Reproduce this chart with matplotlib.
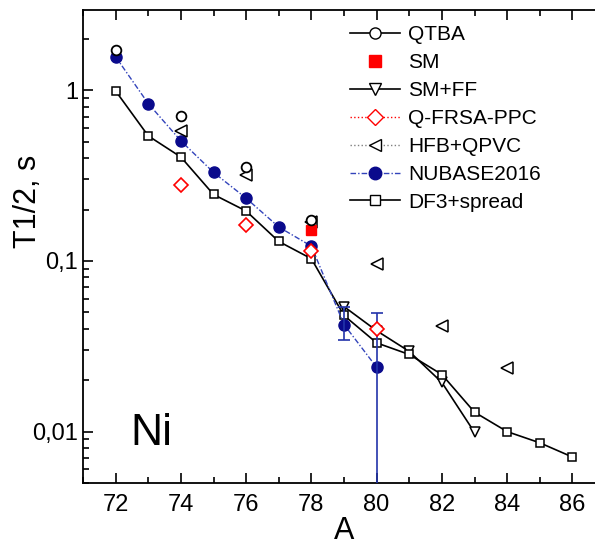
import matplotlib.pyplot as plt
from matplotlib.lines import Line2D
from matplotlib.ticker import FixedLocator, FuncFormatter, LogLocator, NullFormatter

plt.rcParams['font.family'] = ['Liberation Sans', 'DejaVu Sans']

# data
qtba_a = [72, 74, 76, 78]
qtba_t = [1.72, 0.71, 0.355, 0.173]

sm_a = [78]
sm_t = [0.151]

smff_a = [79, 80, 81, 82, 83]
smff_t = [0.054, 0.039, 0.0295, 0.0194, 0.0099]

qfrsa_a = [74, 76, 78, 80]
qfrsa_t = [0.28, 0.162, 0.115, 0.0397]

hfb_a = [74, 76, 78, 80, 82, 84]
hfb_t = [0.577, 0.32, 0.168, 0.0962, 0.0415, 0.0236]

nub_a = [72, 73, 74, 75, 76, 77, 78, 79, 80]
nub_t = [1.57, 0.835, 0.505, 0.33, 0.233, 0.158, 0.122, 0.0424, 0.0238]
nub_err_a = [79, 80]
nub_err_t = [0.0424, 0.0238]
nub_err_lo = [0.0082, 0.02379]
nub_err_hi = [0.0116, 0.0259]

df3_a = [72, 73, 74, 75, 76, 77, 78, 79, 80, 81, 82, 83, 84, 85, 86]
df3_t = [0.99, 0.54, 0.406, 0.245, 0.196, 0.13, 0.103, 0.0479, 0.0331,
         0.0283, 0.0216, 0.013, 0.01, 0.0086, 0.0071]

blue = '#0a0a8c'

fig = plt.figure(figsize=(5.95, 5.45), dpi=100)
ax = fig.add_axes([83 / 595, 1 - 483 / 545, 522 / 595, 473 / 545])

# SM+FF line + markers
ax.plot(smff_a, smff_t, color='black', lw=1.2, marker='v', ms=7,
        mfc='white', mec='black', mew=1.1, zorder=3)
# DF3+spread
ax.plot(df3_a, df3_t, color='black', lw=1.2, marker='s', ms=6,
        mfc='white', mec='black', mew=1.1, zorder=4)
# NUBASE
ax.plot(nub_a, nub_t, color='#3344bb', lw=1.0, ls=(0, (4, 1.5, 1, 1.5)),
        marker='o', ms=8, mfc=blue, mec=blue, zorder=5)
ax.errorbar(nub_err_a, nub_err_t, yerr=[nub_err_lo, nub_err_hi], fmt='none',
            ecolor='#2233aa', elinewidth=1.2, capsize=4, capthick=1.2, zorder=5)
# HFB+QPVC
ax.plot(hfb_a, hfb_t, ls='none', marker='<', ms=8, mfc='white',
        mec='black', mew=1.1, zorder=6)
# QTBA
ax.plot(qtba_a, qtba_t, ls='none', marker='o', ms=7, mfc='white',
        mec='black', mew=1.3, zorder=7)
# SM
ax.plot(sm_a, sm_t, ls='none', marker='s', ms=7, mfc='red', mec='red', zorder=6)
# Q-FRSA-PPC
ax.plot(qfrsa_a, qfrsa_t, ls='none', marker='D', ms=7, mfc='white',
        mec='red', mew=1.2, zorder=8)

ax.set_yscale('log')
ax.set_xlim(71, 87)
ax.set_ylim(0.005, 2.95)

ax.xaxis.set_major_locator(FixedLocator(range(72, 88, 2)))
ax.xaxis.set_minor_locator(FixedLocator(range(71, 88, 2)))
ax.yaxis.set_major_locator(LogLocator(base=10))
ax.yaxis.set_minor_locator(LogLocator(base=10, subs=range(2, 10)))
ax.yaxis.set_minor_formatter(NullFormatter())
ax.yaxis.set_major_formatter(FuncFormatter(
    lambda v, p: {1.0: '1', 0.1: '0,1', 0.01: '0,01'}.get(round(v, 4), '')))

ax.tick_params(axis='both', which='major', direction='in', length=7,
               width=1.2, labelsize=17, top=True, right=False)
ax.tick_params(axis='both', which='minor', direction='in', length=4,
               width=1.2, top=True, right=False)
ax.tick_params(axis='x', which='both', top=True)
ax.tick_params(axis='x', which='major', pad=8)
for s in ax.spines.values():
    s.set_linewidth(1.3)

ax.set_xlabel('A', fontsize=22, labelpad=0)
fig.text(28 / 595, 1 - 201 / 545, 'T1/2, s', fontsize=22, rotation=90,
         ha='center', va='center')
ax.text(72.45, 0.0098, 'Ni', fontsize=32, ha='left', va='center')

handles = [
    Line2D([], [], color='black', lw=1.2, marker='o', ms=8, mfc='white', mec='black'),
    Line2D([], [], ls='none', marker='s', ms=8, mfc='red', mec='red'),
    Line2D([], [], color='black', lw=1.2, marker='v', ms=8, mfc='white', mec='black'),
    Line2D([], [], color='red', lw=1.0, ls=':', marker='D', ms=8, mfc='white', mec='red'),
    Line2D([], [], color='gray', lw=1.0, ls=':', marker='<', ms=9, mfc='white', mec='black'),
    Line2D([], [], color='#3344bb', lw=1.0, ls=(0, (4, 1.5, 1, 1.5)), marker='o',
           ms=9, mfc=blue, mec=blue),
    Line2D([], [], color='black', lw=1.2, marker='s', ms=7, mfc='white', mec='black'),
]
labels = ['QTBA', 'SM', 'SM+FF', 'Q-FRSA-PPC', 'HFB+QPVC', 'NUBASE2016', 'DF3+spread']
ax.legend(handles, labels, loc='upper left', bbox_to_anchor=(350 / 595, 1 - 25 / 545),
          bbox_transform=fig.transFigure, frameon=False, fontsize=15,
          handlelength=2.4, handletextpad=0.4, labelspacing=0.43, borderpad=0,
          borderaxespad=0)

fig.savefig('out.png', dpi=100)
